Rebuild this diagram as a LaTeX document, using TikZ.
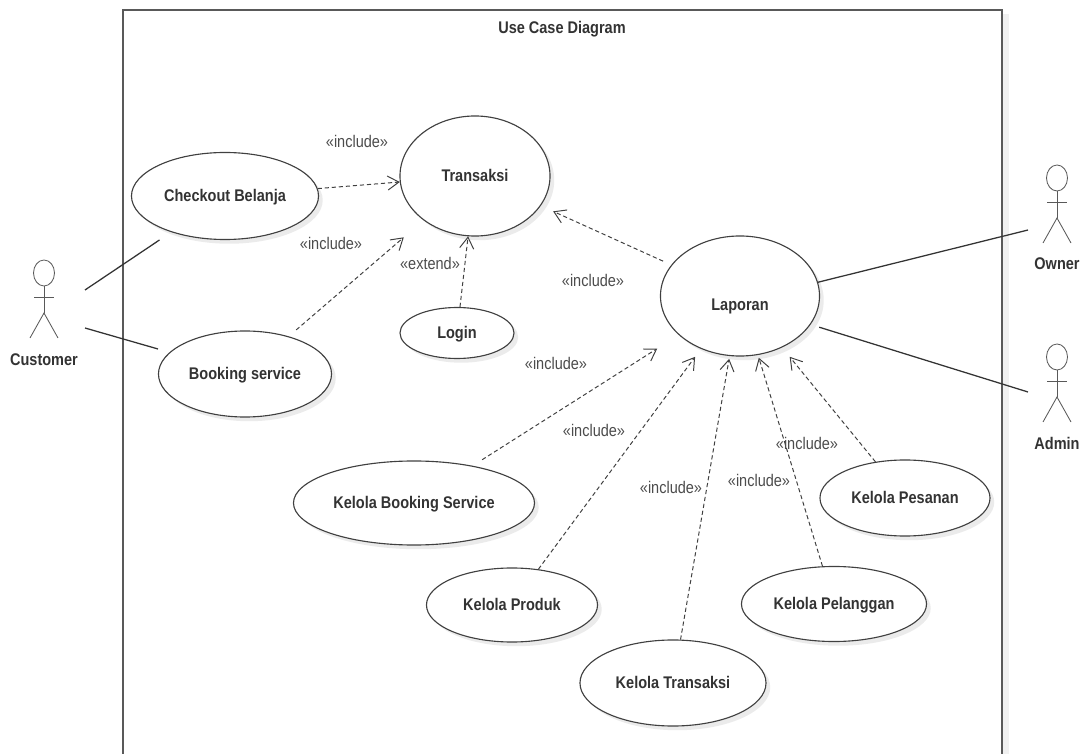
\documentclass[tikz,border=0pt]{standalone}
\usepackage{fontspec}
\setmainfont{Liberation Sans}[FakeStretch=0.86]
\usetikzlibrary{arrows.meta,shapes.geometric,shadows}

\tikzset{
    usecase/.style={ellipse, draw=black!75, fill=white, line width=0.8pt, inner sep=0pt,
        font=\bfseries\fontsize{12}{14}\selectfont, text=black!80, text height=11pt, text depth=2.5pt,
        drop shadow={shadow xshift=3pt, shadow yshift=-3pt, fill=black, opacity=0.08}},
    dep/.style={draw=black!75, line width=0.7pt, dash pattern=on 3pt off 2pt, -{Straight Barb[length=8pt,width=10pt]}},
    assoc/.style={draw=black!80, line width=0.9pt},
    stereo/.style={font=\fontsize{12}{14}\selectfont, text=black!70, inner sep=0pt},
    actorname/.style={font=\bfseries\fontsize{12}{14}\selectfont, text=black!80, inner sep=0pt},
    stick/.style={draw=black!65, line width=0.6pt},
}

% stick figure, #1 x and #2 y of the head
\newcommand{\stickman}[2]{
    \draw[stick] (#1,#2) ellipse (10.5 and 13);
    \draw[stick] (#1,#2+13) -- (#1,#2+40);
    \draw[stick] (#1-10,#2+24) -- (#1+10,#2+24);
    \draw[stick] (#1-14,#2+65) -- (#1,#2+40) -- (#1+14,#2+65);
}

\begin{document}
\begin{tikzpicture}[x=0.025cm,y=-0.025cm]

    \useasboundingbox (0,0) rectangle (1087,754);

    % frame, runs off the bottom
    \fill[black!6] (1002,14) rectangle (1009,754);
    \draw[draw=black!65, line width=0.9pt] (123,754) -- (123,10) -- (1002,10) -- (1002,754);
    \node[actorname] (title) at (562,29) {Use Case Diagram};

    \node[usecase, minimum width=4.675cm, minimum height=2.175cm] (checkout) at (225,196) {Checkout Belanja};
    \node[usecase, minimum width=3.75cm, minimum height=3cm] (transaksi) at (475,176) {Transaksi};
    \node[usecase, minimum width=4.325cm, minimum height=2.15cm] (booking) at (245,374) {Booking service};
    \node[usecase, minimum width=2.85cm, minimum height=1.275cm] (login) at (457,333) {Login};
    \node[usecase, minimum width=3.975cm, minimum height=3cm, text height=22.5pt] (laporan) at (740,296) {Laporan};
    \node[usecase, minimum width=6.025cm, minimum height=2.1cm] (kelolabooking) at (414,503) {Kelola Booking Service};
    \node[usecase, minimum width=4.275cm, minimum height=1.85cm] (kelolaproduk) at (512,605) {Kelola Produk};
    \node[usecase, minimum width=4.625cm, minimum height=1.875cm] (kelolapelanggan) at (834,604) {Kelola Pelanggan};
    \node[usecase, minimum width=4.65cm, minimum height=2.15cm] (kelolatransaksi) at (673,683) {Kelola Transaksi};
    \node[usecase, minimum width=4.25cm, minimum height=1.9cm] (kelolapesanan) at (905,498) {Kelola Pesanan};

    \stickman{44}{273}
    \stickman{1057}{178}
    \stickman{1057}{357}

    \node[actorname] (customer) at (44,360) {Customer};
    \node[actorname] (owner) at (1057,264) {Owner};
    \node[actorname] (admin) at (1057,443) {Admin};

    \coordinate (customerup) at (85,290);
    \coordinate (customerdown) at (85,328);
    \coordinate (ownerhand) at (1028,230);
    \coordinate (adminhand) at (1028,392);

    \draw[assoc, shorten >=10pt] (customerup) -- (checkout);
    \draw[assoc, shorten >=8.5pt] (customerdown) -- (booking);
    \draw[assoc] (laporan.10) -- (ownerhand);
    \draw[assoc, shorten <=6.4pt] (laporan.-22) -- (adminhand);

    \draw[dep] (checkout) -- (transaksi);
    \draw[dep, shorten <=7pt, shorten >=18.5pt] (booking) -- (transaksi);
    \draw[dep] (login) -- (transaksi);
    \draw[dep, shorten <=6.4pt, shorten >=9.6pt] (laporan) -- (transaksi);
    \draw[dep, shorten <=8pt, shorten >=18pt] (kelolabooking) -- (laporan);
    \draw[dep, shorten >=7pt] (kelolaproduk) -- (laporan);
    \draw[dep, shorten >=2pt] (kelolatransaksi) -- (laporan);
    \draw[dep, shorten >=2pt] (kelolapelanggan) -- (laporan);
    \draw[dep, shorten >=8.5pt] (kelolapesanan) -- (laporan);

    \node[stereo] (inc1) at (357,141) {«include»};
    \node[stereo] (inc2) at (331,243) {«include»};
    \node[stereo] (ext1) at (430,263) {«extend»};
    \node[stereo] (inc3) at (593,280) {«include»};
    \node[stereo] (inc4) at (556,363) {«include»};
    \node[stereo] (inc5) at (594,430) {«include»};
    \node[stereo] (inc6) at (671,487) {«include»};
    \node[stereo] (inc7) at (759,480) {«include»};
    \node[stereo] (inc8) at (807,443) {«include»};

\end{tikzpicture}
\end{document}
